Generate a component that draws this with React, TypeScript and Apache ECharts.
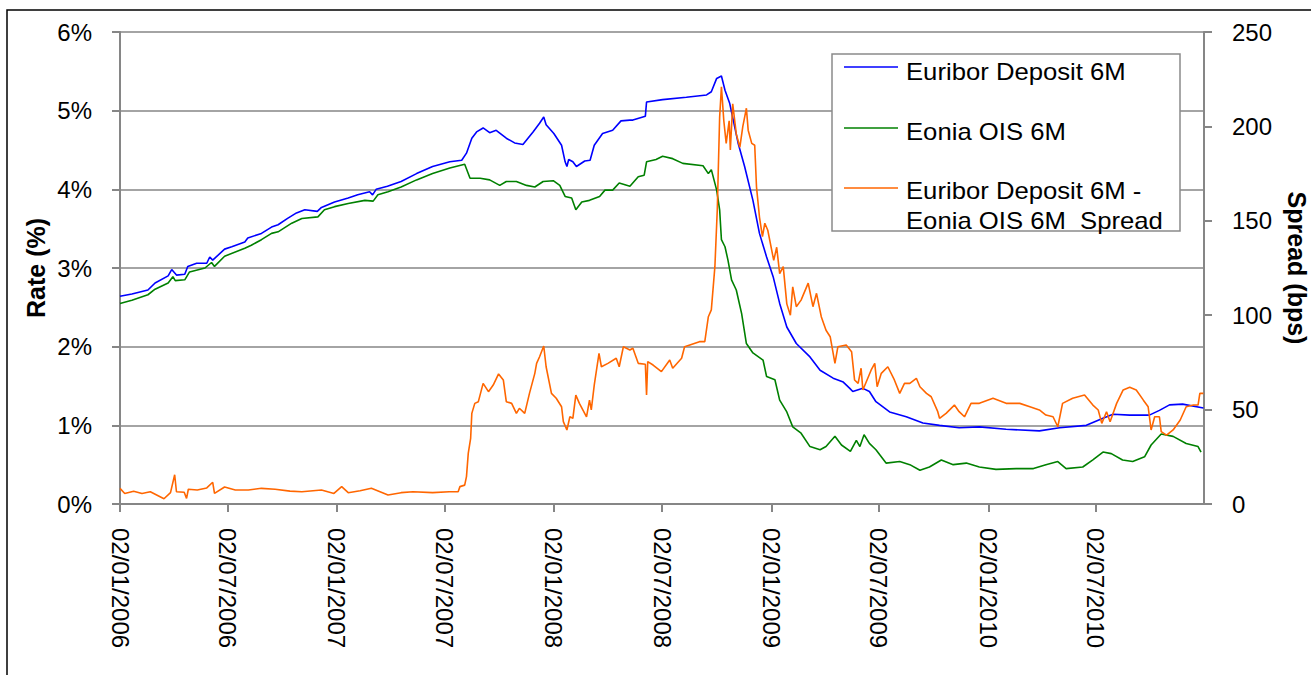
import React, { useEffect, useRef } from 'react';
import * as echarts from 'echarts';

// ---- Data ----
const xTickDates = ['2006-01-02', '2006-07-02', '2007-01-02', '2007-07-02', '2008-01-02', '2008-07-02', '2009-01-02', '2009-07-02', '2010-01-02', '2010-07-02'];
const xStart = '2006-01-02';
const xEnd = '2010-12-31';

const rateAxis = { min: 0, max: 6, interval: 1 };
const spreadAxis = { min: 0, max: 250, interval: 50 };

const seriesNames = ['Euribor Deposit 6M', 'Eonia OIS 6M', 'Euribor Deposit 6M - Eonia OIS 6M Spread'];

// Euribor Deposit 6M (%)
const euribor: [string, number][] = [
  ['2006-01-02', 2.64], ['2006-01-22', 2.67], ['2006-02-18', 2.72], ['2006-03-02', 2.81], ['2006-03-24', 2.9],
  ['2006-03-30', 2.98], ['2006-04-07', 2.91], ['2006-04-21', 2.92], ['2006-04-26', 3.02], ['2006-05-11', 3.06],
  ['2006-05-28', 3.06], ['2006-06-02', 3.14], ['2006-06-07', 3.1], ['2006-06-27', 3.24], ['2006-07-09', 3.27],
  ['2006-07-31', 3.33], ['2006-08-05', 3.38], ['2006-08-28', 3.44], ['2006-09-14', 3.52], ['2006-09-25', 3.55],
  ['2006-10-11', 3.63], ['2006-10-26', 3.7], ['2006-11-09', 3.74], ['2006-11-30', 3.72], ['2006-12-07', 3.77],
  ['2006-12-29', 3.84], ['2007-01-21', 3.89], ['2007-02-06', 3.93], ['2007-02-26', 3.97], ['2007-03-03', 3.93],
  ['2007-03-09', 4.0], ['2007-03-28', 4.04], ['2007-04-20', 4.1], ['2007-05-16', 4.2], ['2007-06-12', 4.29],
  ['2007-07-11', 4.35], ['2007-07-31', 4.37], ['2007-08-08', 4.46], ['2007-08-17', 4.65], ['2007-08-25', 4.73],
  ['2007-09-05', 4.78], ['2007-09-16', 4.72], ['2007-09-27', 4.75], ['2007-10-14', 4.65], ['2007-10-28', 4.59],
  ['2007-11-11', 4.57], ['2007-11-28', 4.73], ['2007-12-09', 4.84], ['2007-12-16', 4.92], ['2007-12-20', 4.82],
  ['2008-01-02', 4.71], ['2008-01-15', 4.56], ['2008-01-21', 4.35], ['2008-01-24', 4.29], ['2008-01-27', 4.38],
  ['2008-02-03', 4.35], ['2008-02-09', 4.29], ['2008-02-23', 4.36], ['2008-03-03', 4.37], ['2008-03-10', 4.56],
  ['2008-03-24', 4.71], ['2008-04-10', 4.75], ['2008-04-24', 4.87], ['2008-05-09', 4.88], ['2008-05-14', 4.88],
  ['2008-06-04', 4.93], ['2008-06-06', 5.11], ['2008-07-03', 5.14], ['2008-08-12', 5.17], ['2008-09-15', 5.2],
  ['2008-09-23', 5.24], ['2008-10-02', 5.41], ['2008-10-10', 5.44], ['2008-10-16', 5.26], ['2008-10-24', 5.09],
  ['2008-11-07', 4.59], ['2008-11-18', 4.29], ['2008-12-02', 3.86], ['2008-12-13', 3.44], ['2008-12-25', 3.14],
  ['2009-01-05', 2.89], ['2009-01-16', 2.55], ['2009-01-28', 2.25], ['2009-02-13', 2.04], ['2009-03-08', 1.87],
  ['2009-03-25', 1.7], ['2009-04-16', 1.6], ['2009-05-03', 1.55], ['2009-05-14', 1.47], ['2009-05-19', 1.43],
  ['2009-06-05', 1.47], ['2009-06-16', 1.43], ['2009-06-27', 1.3], ['2009-07-20', 1.17], ['2009-08-17', 1.11],
  ['2009-09-14', 1.03], ['2009-10-12', 1.0], ['2009-11-14', 0.97], ['2009-12-18', 0.98], ['2010-02-01', 0.95],
  ['2010-03-29', 0.93], ['2010-05-02', 0.97], ['2010-06-16', 1.0], ['2010-07-14', 1.09], ['2010-07-31', 1.14],
  ['2010-08-28', 1.13], ['2010-09-30', 1.13], ['2010-10-17', 1.19], ['2010-11-03', 1.26], ['2010-11-25', 1.27],
  ['2010-12-30', 1.22],
];

// Eonia OIS 6M (%)
const eonia: [string, number][] = [
  ['2006-01-02', 2.55], ['2006-01-22', 2.59], ['2006-02-18', 2.66], ['2006-03-02', 2.73], ['2006-03-24', 2.81],
  ['2006-04-01', 2.89], ['2006-04-05', 2.84], ['2006-04-21', 2.85], ['2006-04-29', 2.95], ['2006-05-25', 3.0],
  ['2006-06-05', 3.07], ['2006-06-10', 3.02], ['2006-06-27', 3.15], ['2006-07-31', 3.25], ['2006-08-11', 3.29],
  ['2006-08-28', 3.36], ['2006-09-14', 3.44], ['2006-09-25', 3.46], ['2006-10-18', 3.57], ['2006-11-04', 3.63],
  ['2006-12-01', 3.65], ['2006-12-12', 3.74], ['2006-12-29', 3.78], ['2007-01-21', 3.82], ['2007-02-18', 3.86],
  ['2007-03-04', 3.85], ['2007-03-12', 3.93], ['2007-03-29', 3.97], ['2007-04-20', 4.03], ['2007-05-16', 4.12],
  ['2007-06-12', 4.2], ['2007-07-11', 4.27], ['2007-08-05', 4.32], ['2007-08-14', 4.14], ['2007-08-31', 4.14],
  ['2007-09-16', 4.12], ['2007-10-03', 4.05], ['2007-10-14', 4.1], ['2007-10-31', 4.1], ['2007-11-17', 4.05],
  ['2007-12-01', 4.03], ['2007-12-15', 4.1], ['2008-01-01', 4.11], ['2008-01-12', 4.05], ['2008-01-21', 3.91],
  ['2008-02-01', 3.89], ['2008-02-08', 3.74], ['2008-02-18', 3.84], ['2008-03-02', 3.86], ['2008-03-19', 3.91],
  ['2008-03-28', 3.99], ['2008-04-10', 3.99], ['2008-04-21', 4.08], ['2008-05-09', 4.04], ['2008-05-23', 4.16],
  ['2008-06-02', 4.18], ['2008-06-06', 4.35], ['2008-06-22', 4.38], ['2008-07-03', 4.42], ['2008-07-20', 4.39],
  ['2008-08-06', 4.33], ['2008-09-09', 4.3], ['2008-09-18', 4.2], ['2008-09-23', 4.25], ['2008-10-02', 3.99],
  ['2008-10-07', 3.74], ['2008-10-10', 3.36], ['2008-10-16', 3.27], ['2008-10-21', 3.1], ['2008-10-27', 2.85],
  ['2008-11-04', 2.72], ['2008-11-13', 2.42], ['2008-11-21', 2.04], ['2008-12-02', 1.92], ['2008-12-19', 1.83],
  ['2008-12-25', 1.62], ['2009-01-08', 1.58], ['2009-01-16', 1.32], ['2009-01-28', 1.17], ['2009-02-07', 0.98],
  ['2009-02-21', 0.9], ['2009-03-08', 0.73], ['2009-03-25', 0.69], ['2009-04-04', 0.73], ['2009-04-19', 0.86],
  ['2009-04-30', 0.75], ['2009-05-15', 0.67], ['2009-05-25', 0.81], ['2009-05-31', 0.73], ['2009-06-07', 0.88],
  ['2009-06-16', 0.77], ['2009-06-27', 0.69], ['2009-07-14', 0.52], ['2009-08-06', 0.54], ['2009-08-23', 0.5],
  ['2009-09-09', 0.43], ['2009-09-25', 0.47], ['2009-10-15', 0.56], ['2009-11-04', 0.5], ['2009-11-26', 0.52],
  ['2009-12-18', 0.47], ['2010-01-15', 0.44], ['2010-02-18', 0.45], ['2010-03-19', 0.45], ['2010-04-09', 0.5],
  ['2010-04-29', 0.54], ['2010-05-13', 0.45], ['2010-06-10', 0.47], ['2010-06-27', 0.56], ['2010-07-14', 0.66],
  ['2010-07-28', 0.64], ['2010-08-16', 0.56], ['2010-09-02', 0.54], ['2010-09-22', 0.6], ['2010-10-03', 0.75],
  ['2010-10-20', 0.89], ['2010-11-09', 0.86], ['2010-12-01', 0.77], ['2010-12-21', 0.73], ['2010-12-26', 0.66],
];

// Euribor Deposit 6M - Eonia OIS 6M spread (bps)
const spread: [string, number][] = [
  ['2006-01-02', 8.3], ['2006-01-10', 5.6], ['2006-01-25', 6.8], ['2006-02-08', 5.6], ['2006-02-22', 6.5],
  ['2006-03-17', 2.8], ['2006-03-28', 6.0], ['2006-04-04', 15.5], ['2006-04-07', 6.5], ['2006-04-20', 6.2],
  ['2006-04-24', 3.0], ['2006-04-27', 7.8], ['2006-05-12', 7.4], ['2006-05-28', 8.5], ['2006-06-07', 11.5],
  ['2006-06-10', 5.6], ['2006-06-27', 9.0], ['2006-07-15', 7.4], ['2006-08-06', 7.4], ['2006-08-28', 8.3],
  ['2006-09-20', 7.8], ['2006-10-15', 6.8], ['2006-11-04', 6.5], ['2006-12-07', 7.4], ['2006-12-28', 5.6],
  ['2007-01-10', 9.2], ['2007-01-21', 6.0], ['2007-02-10', 7.0], ['2007-03-01', 8.3], ['2007-03-29', 4.8],
  ['2007-04-20', 6.0], ['2007-05-10', 6.5], ['2007-06-12', 6.0], ['2007-07-10', 6.5], ['2007-07-25', 6.5],
  ['2007-07-28', 9.2], ['2007-08-05', 10], ['2007-08-08', 14.5], ['2007-08-11', 26.8], ['2007-08-15', 34.8],
  ['2007-08-17', 48], ['2007-08-22', 53.3], ['2007-08-28', 54.2], ['2007-09-05', 63.9], ['2007-09-14', 59.5],
  ['2007-09-22', 63], ['2007-10-01', 68.9], ['2007-10-09', 65.7], ['2007-10-14', 54.2], ['2007-10-23', 53.3],
  ['2007-10-31', 48], ['2007-11-05', 50.7], ['2007-11-14', 48], ['2007-11-22', 58.6], ['2007-12-01', 69.2],
  ['2007-12-04', 74.5], ['2007-12-09', 78], ['2007-12-16', 83.7], ['2007-12-20', 72.7], ['2007-12-29', 58.6],
  ['2008-01-06', 56], ['2008-01-15', 51.5], ['2008-01-18', 43.6], ['2008-01-24', 39.2], ['2008-01-29', 46.2],
  ['2008-02-03', 45.4], ['2008-02-08', 57.7], ['2008-02-14', 53.3], ['2008-02-26', 46.2], ['2008-03-02', 55],
  ['2008-03-05', 49.8], ['2008-03-10', 63], ['2008-03-18', 79.8], ['2008-03-22', 72.7], ['2008-04-02', 74.5],
  ['2008-04-16', 77.2], ['2008-04-21', 72.7], ['2008-04-28', 83.3], ['2008-05-09', 81.6], ['2008-05-14', 82.5],
  ['2008-05-23', 74.5], ['2008-06-04', 74], ['2008-06-06', 57.7], ['2008-06-08', 75.4], ['2008-06-17', 73.6],
  ['2008-07-01', 70.1], ['2008-07-15', 76.3], ['2008-07-20', 71.9], ['2008-08-04', 77.2], ['2008-08-09', 83.3],
  ['2008-09-03', 86], ['2008-09-12', 86], ['2008-09-18', 99.2], ['2008-09-23', 102.8], ['2008-09-29', 125.7],
  ['2008-10-03', 155.7], ['2008-10-07', 205], ['2008-10-10', 221], ['2008-10-14', 203], ['2008-10-18', 191],
  ['2008-10-23', 203], ['2008-10-25', 187.5], ['2008-10-29', 212], ['2008-11-04', 196], ['2008-11-10', 189],
  ['2008-11-15', 200], ['2008-11-21', 209.6], ['2008-11-24', 198], ['2008-11-30', 191], ['2008-12-05', 190],
  ['2008-12-08', 168], ['2008-12-13', 152], ['2008-12-18', 141.6], ['2008-12-22', 148.7], ['2008-12-27', 145],
  ['2009-01-06', 129], ['2009-01-11', 136], ['2009-01-16', 122], ['2009-01-22', 125.7], ['2009-01-28', 106],
  ['2009-02-03', 100], ['2009-02-07', 115], ['2009-02-13', 104.5], ['2009-02-21', 108], ['2009-03-05', 117],
  ['2009-03-13', 104.5], ['2009-03-19', 111.6], ['2009-03-27', 99.2], ['2009-04-04', 92], ['2009-04-11', 88.6],
  ['2009-04-19', 74.5], ['2009-04-24', 83.3], ['2009-05-08', 84.2], ['2009-05-17', 80.7], ['2009-05-22', 65.7],
  ['2009-05-28', 63.9], ['2009-06-02', 71.9], ['2009-06-05', 60.4], ['2009-06-19', 71], ['2009-06-25', 74.5],
  ['2009-06-29', 62.1], ['2009-07-06', 69.2], ['2009-07-17', 72.7], ['2009-07-28', 65.7], ['2009-08-06', 58.6],
  ['2009-08-14', 63.9], ['2009-08-23', 63.9], ['2009-09-03', 66.6], ['2009-09-09', 62.1], ['2009-09-20', 58.6],
  ['2009-09-28', 56.8], ['2009-10-09', 48.9], ['2009-10-12', 45.4], ['2009-10-23', 48], ['2009-11-06', 52.4],
  ['2009-11-14', 48.9], ['2009-11-23', 46.2], ['2009-12-04', 53.3], ['2009-12-18', 53.3], ['2010-01-10', 56],
  ['2010-02-01', 53.3], ['2010-02-24', 53.3], ['2010-03-13', 51.5], ['2010-03-29', 49.8], ['2010-04-09', 47.1],
  ['2010-04-21', 46.2], ['2010-04-29', 40.9], ['2010-05-07', 53.3], ['2010-05-24', 56], ['2010-06-13', 57.7],
  ['2010-06-27', 52.4], ['2010-07-06', 49.8], ['2010-07-12', 42.7], ['2010-07-20', 48.9], ['2010-07-26', 43.6],
  ['2010-08-06', 53.3], ['2010-08-17', 60.4], ['2010-08-28', 61.8], ['2010-09-08', 60.4], ['2010-09-20', 55],
  ['2010-09-28', 51.5], ['2010-10-03', 39.2], ['2010-10-09', 46.2], ['2010-10-17', 46.2], ['2010-10-20', 38.3],
  ['2010-10-29', 36.5], ['2010-11-09', 39.2], ['2010-11-21', 44.5], ['2010-12-01', 51.5], ['2010-12-13', 52.4],
  ['2010-12-21', 52.4], ['2010-12-24', 58.6], ['2010-12-30', 58.6],
];

const colors = ['#0000FF', '#008000', '#FF6600'];

// ---- helpers ----
const toTs = (s: string) => {
  const [y, m, d] = s.split('-').map(Number);
  return new Date(y, m - 1, d).getTime();
};
const pad = (n: number) => (n < 10 ? '0' + n : '' + n);
const fmtDate = (v: number) => {
  const d = new Date(v);
  return pad(d.getDate()) + '/' + pad(d.getMonth() + 1) + '/' + d.getFullYear();
};

const FONT = '"Liberation Sans", Arial, Helvetica, sans-serif';
const GRAY = '#868686';

export default function App() {
  const ref = useRef<HTMLDivElement>(null);

  useEffect(() => {
    if (!ref.current) return;
    const chart = echarts.init(ref.current, undefined, { renderer: 'svg' });
    const tickTs = xTickDates.map(toTs);

    const legendTexts = [
      { t: 'Euribor Deposit 6M', y: 72 },
      { t: 'Eonia OIS 6M', y: 132 },
      { t: 'Euribor Deposit 6M -', y: 191 },
      { t: 'Eonia OIS 6M  Spread', y: 221 },
    ];
    const legendLines = [67, 128, 188];

    const option: any = {
      animation: false,
      backgroundColor: '#ffffff',
      textStyle: { fontFamily: FONT },
      grid: { left: 120, right: 107, top: 32, bottom: 171, containLabel: false, outerBoundsMode: 'none' },
      xAxis: {
        type: 'value',
        min: toTs(xStart),
        max: toTs(xEnd),
        axisLine: { show: true, lineStyle: { color: GRAY, width: 2 } },
        axisTick: { show: true, length: 8, lineStyle: { color: GRAY, width: 2 }, customValues: tickTs },
        axisLabel: {
          customValues: tickTs,
          formatter: (v: number) => fmtDate(v),
          rotate: -90,
          margin: 24,
          color: '#000',
          fontSize: 24,
          fontFamily: FONT,
          hideOverlap: false,
        },
        splitLine: { show: false },
      },
      yAxis: [
        {
          type: 'value',
          position: 'left',
          min: rateAxis.min,
          max: rateAxis.max,
          interval: rateAxis.interval,
          name: 'Rate (%)',
          nameLocation: 'middle',
          nameGap: 72,
          nameRotate: 90,
          nameMoveOverlap: false,
          nameTextStyle: { fontSize: 25, fontWeight: 'bold', color: '#000', fontFamily: FONT },
          axisLine: { show: true, lineStyle: { color: GRAY, width: 2 } },
          axisTick: { show: true, length: 8, lineStyle: { color: GRAY, width: 2 } },
          axisLabel: { formatter: '{value}%', color: '#000', fontSize: 24, margin: 28, fontFamily: FONT },
          splitLine: { show: true, lineStyle: { color: GRAY, width: 1.5 } },
        },
        {
          type: 'value',
          position: 'right',
          min: spreadAxis.min,
          max: spreadAxis.max,
          interval: spreadAxis.interval,
          name: 'Spread (bps)',
          nameLocation: 'middle',
          nameGap: 80,
          nameRotate: -90,
          nameMoveOverlap: false,
          nameTextStyle: { fontSize: 25, fontWeight: 'bold', color: '#000', fontFamily: FONT },
          axisLine: { show: true, lineStyle: { color: GRAY, width: 2 } },
          axisTick: { show: true, length: 8, lineStyle: { color: GRAY, width: 2 } },
          axisLabel: { color: '#000', fontSize: 24, margin: 28, fontFamily: FONT },
          splitLine: { show: false },
        },
      ],
      series: [
        {
          name: seriesNames[0],
          type: 'line',
          yAxisIndex: 0,
          showSymbol: false,
          lineStyle: { color: colors[0], width: 1.6 },
          itemStyle: { color: colors[0] },
          data: euribor.map(([d, v]) => [toTs(d), v]),
        },
        {
          name: seriesNames[1],
          type: 'line',
          yAxisIndex: 0,
          showSymbol: false,
          lineStyle: { color: colors[1], width: 1.6 },
          itemStyle: { color: colors[1] },
          data: eonia.map(([d, v]) => [toTs(d), v]),
        },
        {
          name: seriesNames[2],
          type: 'line',
          yAxisIndex: 1,
          showSymbol: false,
          lineStyle: { color: colors[2], width: 1.6 },
          itemStyle: { color: colors[2] },
          data: spread.map(([d, v]) => [toTs(d), v]),
        },
      ],
      graphic: [
        {
          type: 'rect',
          shape: { x: 7, y: 10, width: 1320, height: 700 },
          style: { fill: 'none', stroke: '#000', lineWidth: 1.5 },
          silent: true,
          z: 100,
        },
        {
          type: 'rect',
          shape: { x: 832, y: 54, width: 348, height: 177 },
          style: { fill: '#fff', stroke: '#8a8a8a', lineWidth: 1.5 },
          silent: true,
          z: 100,
        },
        ...legendLines.map((y, i) => ({
          type: 'line',
          shape: { x1: 844, y1: y, x2: 898, y2: y },
          style: { stroke: colors[i], lineWidth: 1.6 },
          silent: true,
          z: 101,
        })),
        ...legendTexts.map((it) => ({
          type: 'text',
          x: 906,
          y: it.y,
          scaleX: 1.07,
          style: {
            text: it.t,
            fill: '#000',
            font: `24px ${FONT}`,
            textAlign: 'left',
            textVerticalAlign: 'middle',
          },
          silent: true,
          z: 102,
        })),
      ],
    };

    chart.setOption(option);
    return () => chart.dispose();
  }, []);

  return (
    <div
      ref={ref}
      style={{ position: 'absolute', left: 0, top: 0, width: 1311, height: 675, background: '#fff' }}
    />
  );
}
